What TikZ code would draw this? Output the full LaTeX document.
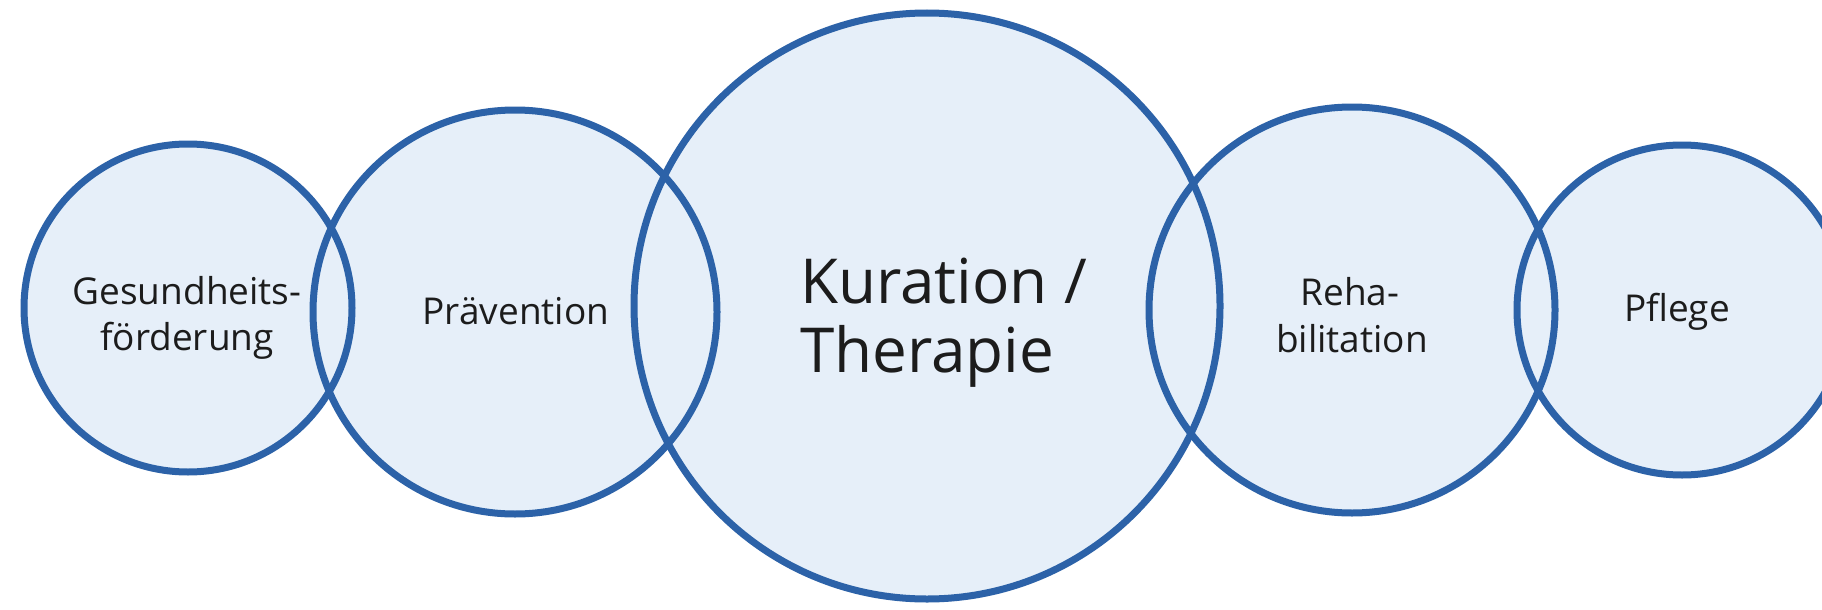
\documentclass[tikz,border=0pt]{standalone}
\usepackage{fontspec}
\setmainfont{Open Sans}
\definecolor{ringblue}{HTML}{2C62A8}
\definecolor{ringfill}{HTML}{E6EFF9}
\definecolor{ink}{HTML}{1C1C1C}
\tikzset{
  ring/.style={circle, draw=ringblue, line width=7pt, inner sep=0pt, minimum size=#1},
  small/.style={text=ink, inner sep=0pt, font=\fontsize{37}{45}\selectfont},
  big/.style={text=ink, inner sep=0pt, font=\fontsize{62}{74}\selectfont},
}
\begin{document}
\begin{tikzpicture}[x=1pt, y=-1pt]
  \useasboundingbox (0,0) rectangle (1822,610);
  \clip (0,0) rectangle (1822,610);
  \fill[white] (0,0) rectangle (1822,610);
  % light fills first, so every outline stays visible in the overlaps
  \fill[ringfill] (188,308) circle[radius=164];
  \fill[ringfill] (515,312) circle[radius=202];
  \fill[ringfill] (927,306) circle[radius=293];
  \fill[ringfill] (1352,310) circle[radius=203];
  \fill[ringfill] (1682,310) circle[radius=165];
  % outlines
  \node[ring=328pt] (gf)   at (188,308) {};
  \node[ring=404pt] (prae) at (515,312) {};
  \node[ring=586pt] (kur)  at (927,306) {};
  \node[ring=406pt] (reha) at (1352,310) {};
  \node[ring=330pt] (pfl)  at (1682,310) {};
  % labels
  \node[small, anchor=base] (gf1) at (187,304) {Gesundheits-};
  \node[small, anchor=base] (gf2) at (187,350) {förderung};
  \node[small, anchor=base] (pr1) at (516,324) {Prävention};
  \node[big, anchor=base west] (ku1) at (800,303) {Kuration /};
  \node[big, anchor=base west] (ku2) at (800,372) {Therapie};
  \node[small, anchor=base] (re1) at (1350,305) {Reha-};
  \node[small, anchor=base] (re2) at (1352,352) {bilitation};
  \node[small, anchor=base] (pf1) at (1677,321) {Pflege};
\end{tikzpicture}
\end{document}
